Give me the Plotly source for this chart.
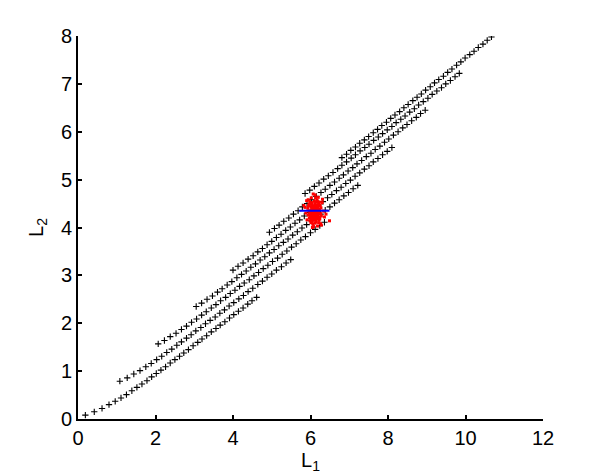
import plotly.graph_objects as go

# ---- data: eight lattice lines of "+" markers (L1, L2) ----
line_A_x = [0.19, 0.42, 0.62, 0.80, 0.96, 1.11, 1.25, 1.39, 1.52, 1.65, 1.78, 1.90, 2.02, 2.14, 2.26, 2.38, 2.50, 2.62, 2.73, 2.85, 2.97, 3.09, 3.20, 3.32, 3.44, 3.56, 3.67, 3.79, 3.91, 4.02, 4.14, 4.26, 4.38, 4.49, 4.61]
line_A_y = [0.08, 0.15, 0.22, 0.30, 0.37, 0.44, 0.51, 0.59, 0.66, 0.73, 0.80, 0.88, 0.95, 1.02, 1.09, 1.17, 1.24, 1.31, 1.38, 1.45, 1.53, 1.60, 1.67, 1.74, 1.82, 1.89, 1.96, 2.03, 2.11, 2.18, 2.25, 2.32, 2.40, 2.47, 2.54]

line_B_x = [1.08, 1.27, 1.44, 1.60, 1.75, 1.89, 2.03, 2.16, 2.29, 2.42, 2.55, 2.67, 2.80, 2.92, 3.04, 3.17, 3.29, 3.41, 3.54, 3.66, 3.78, 3.90, 4.02, 4.15, 4.27, 4.39, 4.51, 4.64, 4.76, 4.88, 5.00, 5.12, 5.25, 5.37, 5.49]
line_B_y = [0.79, 0.86, 0.94, 1.01, 1.09, 1.16, 1.24, 1.31, 1.39, 1.46, 1.54, 1.61, 1.69, 1.76, 1.84, 1.91, 1.99, 2.06, 2.13, 2.21, 2.28, 2.36, 2.43, 2.51, 2.58, 2.66, 2.73, 2.81, 2.88, 2.96, 3.03, 3.11, 3.18, 3.26, 3.33]

line_C_x = [2.07, 2.23, 2.38, 2.53, 2.67, 2.80, 2.93, 3.06, 3.19, 3.31, 3.44, 3.56, 3.68, 3.81, 3.93, 4.05, 4.17, 4.29, 4.42, 4.54, 4.66, 4.78, 4.90, 5.02, 5.15, 5.27, 5.39, 5.51, 5.63, 5.75, 5.87, 6.00, 6.12, 6.24, 6.36]
line_C_y = [1.57, 1.64, 1.72, 1.79, 1.87, 1.94, 2.02, 2.09, 2.17, 2.24, 2.32, 2.39, 2.47, 2.54, 2.62, 2.69, 2.77, 2.84, 2.91, 2.99, 3.06, 3.14, 3.21, 3.29, 3.36, 3.44, 3.51, 3.59, 3.66, 3.74, 3.81, 3.89, 3.96, 4.04, 4.11]

line_D_x = [3.05, 3.19, 3.33, 3.47, 3.60, 3.72, 3.85, 3.97, 4.10, 4.22, 4.34, 4.46, 4.58, 4.70, 4.82, 4.94, 5.06, 5.18, 5.30, 5.42, 5.54, 5.66, 5.78, 5.90, 6.02, 6.14, 6.26, 6.38, 6.50, 6.62, 6.74, 6.86, 6.98, 7.10, 7.22]
line_D_y = [2.35, 2.42, 2.50, 2.57, 2.65, 2.72, 2.80, 2.87, 2.95, 3.02, 3.09, 3.17, 3.24, 3.32, 3.39, 3.47, 3.54, 3.62, 3.69, 3.76, 3.84, 3.91, 3.99, 4.06, 4.14, 4.21, 4.28, 4.36, 4.43, 4.51, 4.58, 4.66, 4.73, 4.81, 4.88]

line_E_x = [4.00, 4.13, 4.26, 4.39, 4.52, 4.64, 4.76, 4.88, 5.00, 5.12, 5.24, 5.36, 5.48, 5.60, 5.72, 5.84, 5.96, 6.08, 6.20, 6.32, 6.44, 6.55, 6.67, 6.79, 6.91, 7.03, 7.15, 7.27, 7.39, 7.51, 7.62, 7.74, 7.86, 7.98, 8.10]
line_E_y = [3.11, 3.19, 3.26, 3.34, 3.41, 3.49, 3.56, 3.64, 3.71, 3.79, 3.86, 3.94, 4.01, 4.09, 4.16, 4.24, 4.31, 4.39, 4.47, 4.54, 4.62, 4.69, 4.77, 4.84, 4.92, 4.99, 5.07, 5.14, 5.22, 5.29, 5.37, 5.44, 5.52, 5.59, 5.67]

line_F_x = [4.94, 5.07, 5.19, 5.31, 5.44, 5.56, 5.68, 5.79, 5.91, 6.03, 6.15, 6.27, 6.38, 6.50, 6.62, 6.74, 6.85, 6.97, 7.09, 7.20, 7.32, 7.44, 7.56, 7.67, 7.79, 7.91, 8.02, 8.14, 8.26, 8.38, 8.49, 8.61, 8.73, 8.84, 8.96]
line_F_y = [3.90, 3.98, 4.05, 4.13, 4.20, 4.28, 4.35, 4.43, 4.50, 4.58, 4.65, 4.73, 4.80, 4.88, 4.95, 5.03, 5.10, 5.18, 5.25, 5.33, 5.40, 5.48, 5.55, 5.63, 5.70, 5.78, 5.85, 5.93, 6.00, 6.08, 6.15, 6.23, 6.30, 6.38, 6.45]

line_G_x = [5.86, 5.98, 6.10, 6.22, 6.34, 6.46, 6.58, 6.70, 6.81, 6.93, 7.05, 7.16, 7.28, 7.40, 7.51, 7.63, 7.75, 7.86, 7.98, 8.10, 8.21, 8.33, 8.44, 8.56, 8.68, 8.79, 8.91, 9.03, 9.14, 9.26, 9.38, 9.49, 9.61, 9.73, 9.84]
line_G_y = [4.71, 4.78, 4.86, 4.93, 5.01, 5.08, 5.15, 5.23, 5.30, 5.37, 5.45, 5.52, 5.60, 5.67, 5.74, 5.82, 5.89, 5.96, 6.04, 6.11, 6.19, 6.26, 6.33, 6.41, 6.48, 6.56, 6.63, 6.70, 6.78, 6.85, 6.92, 7.00, 7.07, 7.15, 7.22]

line_H_x = [6.81, 6.93, 7.04, 7.16, 7.27, 7.39, 7.50, 7.62, 7.73, 7.84, 7.96, 8.07, 8.18, 8.30, 8.41, 8.52, 8.64, 8.75, 8.86, 8.97, 9.09, 9.20, 9.31, 9.43, 9.54, 9.65, 9.77, 9.88, 9.99, 10.11, 10.22, 10.33, 10.45, 10.56, 10.67]
line_H_y = [5.46, 5.53, 5.61, 5.68, 5.76, 5.83, 5.90, 5.98, 6.05, 6.13, 6.20, 6.28, 6.35, 6.42, 6.50, 6.57, 6.65, 6.72, 6.79, 6.87, 6.94, 7.02, 7.09, 7.16, 7.24, 7.31, 7.39, 7.46, 7.54, 7.61, 7.68, 7.76, 7.83, 7.91, 7.98]

# ---- red sample cloud ----
cloud_x = [6.10, 6.13, 6.06, 6.15, 6.08, 6.17, 6.03, 6.11, 6.09, 6.14, 6.05, 6.16, 6.04, 6.19, 6.01, 6.18, 6.02, 6.12, 6.07, 6.10,
           6.12, 6.08, 6.14, 6.07, 6.16, 6.04, 6.13, 6.06, 6.15, 6.20, 6.00, 6.11, 6.18, 6.02, 6.10, 6.21, 5.99, 6.15, 6.08, 6.17,
           6.13, 6.05, 6.11, 6.09, 6.19, 6.03, 6.14, 6.22, 5.98, 6.12, 6.07, 6.16, 6.05, 6.18, 6.20, 6.01, 6.13, 6.06, 6.17, 6.04,
           6.24, 5.96, 6.23, 5.97, 6.25, 5.95, 6.15, 6.04, 6.14, 6.03, 6.21, 6.00, 6.22, 5.99, 6.26, 5.94, 6.10, 6.11, 6.19, 6.01,
           6.27, 5.93, 6.24, 5.96, 6.28, 6.17, 6.06, 6.23, 5.98, 6.21,
           6.34, 5.88, 6.30, 5.91, 6.13, 6.08, 6.26, 5.94, 6.36, 5.86, 6.20, 6.31, 6.40, 5.90, 6.18, 6.28, 6.02, 6.49, 6.07, 6.12,
           5.83, 6.05]
cloud_y = [4.32, 4.37, 4.34, 4.28, 4.26, 4.33, 4.31, 4.41, 4.22, 4.43, 4.40, 4.23, 4.24, 4.37, 4.36, 4.29, 4.27, 4.19, 4.45, 4.36,
           4.30, 4.32, 4.34, 4.29, 4.38, 4.38, 4.25, 4.21, 4.46, 4.25, 4.23, 4.47, 4.42, 4.43, 4.17, 4.32, 4.33, 4.20, 4.39, 4.26,
           4.33, 4.30, 4.28, 4.44, 4.21, 4.46, 4.16, 4.39, 4.28, 4.50, 4.15, 4.35, 4.42, 4.45, 4.35, 4.19, 4.40, 4.37, 4.18, 4.17,
           4.37, 4.34, 4.22, 4.20, 4.46, 4.45, 4.53, 4.52, 4.11, 4.12, 4.50, 4.49, 4.15, 4.14, 4.29, 4.26, 4.55, 4.09, 4.54, 4.10,
           4.41, 4.40, 4.18, 4.48, 4.24, 4.57, 4.07, 4.53, 4.54, 4.10,
           4.34, 4.30, 4.52, 4.16, 4.62, 4.02, 4.08, 4.58, 4.22, 4.42, 4.63, 4.59, 4.28, 4.56, 4.03, 4.05, 4.62, 4.14, 4.70, 4.68,
           4.46, 4.00]

# ---- blue horizontal segment ----
bar_x = [5.71, 6.49]
bar_y = [4.35, 4.35]

lines = [(line_A_x, line_A_y), (line_B_x, line_B_y), (line_C_x, line_C_y), (line_D_x, line_D_y),
         (line_E_x, line_E_y), (line_F_x, line_F_y), (line_G_x, line_G_y), (line_H_x, line_H_y)]

fig = go.Figure()
for xs, ys in lines:
    fig.add_trace(go.Scatter(
        x=xs, y=ys, mode="markers",
        marker=dict(symbol="cross-thin", size=4.5, color="black",
                    line=dict(width=1.1, color="black")),
        hoverinfo="skip", showlegend=False))

fig.add_trace(go.Scatter(
    x=cloud_x, y=cloud_y, mode="markers",
    marker=dict(symbol="square", size=3, color="#ff0000", line=dict(width=0)),
    hoverinfo="skip", showlegend=False))

fig.add_trace(go.Scatter(
    x=bar_x, y=bar_y, mode="lines",
    line=dict(color="#0000ff", width=2),
    hoverinfo="skip", showlegend=False))

font_family = "Liberation Sans, Arial, Helvetica, sans-serif"
# page body has an 8px margin, so the figure is sized/offset to land the axes where the reference has them
fig.update_layout(
    width=592, height=466,
    margin=dict(l=70, r=57, t=28, b=55, pad=0, autoexpand=False),
    plot_bgcolor="white", paper_bgcolor="white",
    showlegend=False,
    font=dict(family=font_family, size=20, color="black"),
)
fig.update_xaxes(
    range=[0, 12], tickvals=[0, 2, 4, 6, 8, 10, 12],
    ticks="inside", ticklen=4, tickwidth=2, tickcolor="black",
    showline=True, linewidth=2, linecolor="black", mirror=False,
    showgrid=False, zeroline=False, automargin=False,
    tickfont=dict(family=font_family, size=20, color="black"),
    title=dict(text="L<sub>1</sub>", standoff=6,
               font=dict(family=font_family, size=20, color="black")),
)
fig.update_yaxes(
    range=[0, 8], tickvals=[0, 1, 2, 3, 4, 5, 6, 7, 8],
    ticks="inside", ticklen=4, tickwidth=2, tickcolor="black",
    showline=True, linewidth=2, linecolor="black", mirror=False,
    showgrid=False, zeroline=False, automargin=False,
    tickfont=dict(family=font_family, size=20, color="black"),
    title=dict(text="L<sub>2</sub>", standoff=12,
               font=dict(family=font_family, size=20, color="black")),
)

fig.write_html("out.html", config={"displayModeBar": False})
